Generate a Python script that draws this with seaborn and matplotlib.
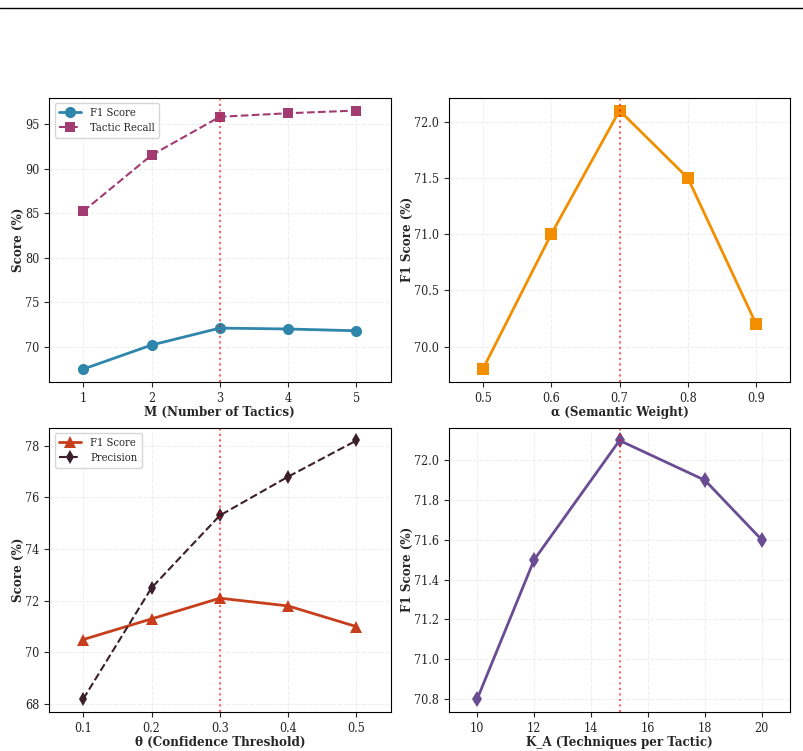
import numpy as np
import pandas as pd
import matplotlib.pyplot as plt
import seaborn as sns
from matplotlib.lines import Line2D

m_vals = [1, 2, 3, 4, 5]
m_f1 = [67.5, 70.2, 72.1, 72.0, 71.8]
m_recall = [85.2, 91.5, 95.8, 96.2, 96.5]

alpha_vals = [0.5, 0.6, 0.7, 0.8, 0.9]
alpha_f1 = [69.8, 71.0, 72.1, 71.5, 70.2]

theta_vals = [0.1, 0.2, 0.3, 0.4, 0.5]
theta_f1 = [70.5, 71.3, 72.1, 71.8, 71.0]
theta_prec = [68.2, 72.5, 75.3, 76.8, 78.2]

ka_vals = [10, 12, 15, 18, 20]
ka_f1 = [70.8, 71.5, 72.1, 71.9, 71.6]

sns.set_style('ticks')
plt.rcParams['font.family'] = ['DejaVu Serif']
plt.rcParams['font.stretch'] = 'condensed'
plt.rcParams['font.size'] = 9

fig, axes = plt.subplots(2, 2, figsize=(8.04, 7.51), dpi=100)
fig.subplots_adjust(left=0.061, right=0.983, top=0.870, bottom=0.052,
                    wspace=0.17, hspace=0.16)
fig.add_artist(Line2D([0.0, 1.0], [0.99, 0.99], color='black', lw=1.0,
                      transform=fig.transFigure))

lab = dict(fontsize=9.5, fontweight='bold')
vline = dict(color='red', linestyle=':', alpha=0.6, linewidth=1.5)


def style(ax):
    ax.grid(True, linestyle='--', alpha=0.3)
    for s in ax.spines.values():
        s.set_visible(True)
        s.set_color('black')
    ax.tick_params(labelsize=9)
    ax.xaxis.labelpad = 1
    ax.yaxis.labelpad = 0


ax = axes[0, 0]
sns.lineplot(x=m_vals, y=m_f1, ax=ax, color='#2E86AB', marker='o',
             markersize=8, linewidth=2, markeredgewidth=0, label='F1 Score')
sns.lineplot(x=m_vals, y=m_recall, ax=ax, color='#A23B72', marker='s',
             markersize=7, linewidth=1.5, linestyle='--', markeredgewidth=0,
             label='Tactic Recall')
ax.axvline(3, **vline)
ax.set_xticks(m_vals)
ax.set_xlim(0.5, 5.5)
ax.set_xlabel('M (Number of Tactics)', **lab)
ax.set_ylabel('Score (%)', **lab)
ax.legend(loc='upper left', fontsize=8)
style(ax)

ax = axes[0, 1]
sns.lineplot(x=alpha_vals, y=alpha_f1, ax=ax, color='#F18F01', marker='s',
             markersize=8, linewidth=2, markeredgewidth=0)
ax.axvline(0.7, **vline)
ax.set_xticks(alpha_vals)
ax.set_xlim(0.45, 0.95)
ax.set_xlabel('α (Semantic Weight)', **lab)
ax.set_ylabel('F1 Score (%)', **lab)
style(ax)

ax = axes[1, 0]
sns.lineplot(x=theta_vals, y=theta_f1, ax=ax, color='#C73E1D', marker='^',
             markersize=8, linewidth=2, markeredgewidth=0, label='F1 Score')
sns.lineplot(x=theta_vals, y=theta_prec, ax=ax, color='#3B1F2B', marker='d',
             markersize=7, linewidth=1.5, linestyle='--', markeredgewidth=0,
             label='Precision')
ax.axvline(0.3, **vline)
ax.set_xticks(theta_vals)
ax.set_xlim(0.05, 0.55)
ax.set_xlabel('θ (Confidence Threshold)', **lab)
ax.set_ylabel('Score (%)', **lab)
ax.legend(loc='upper left', fontsize=8)
style(ax)

ax = axes[1, 1]
sns.lineplot(x=ka_vals, y=ka_f1, ax=ax, color='#6A4C93', marker='d',
             markersize=8, linewidth=2, markeredgewidth=0)
ax.axvline(15, **vline)
ax.set_xticks([10, 12, 14, 16, 18, 20])
ax.set_xlim(9, 21)
ax.set_xlabel('K_A (Techniques per Tactic)', **lab)
ax.set_ylabel('F1 Score (%)', **lab)
style(ax)

fig.savefig('out.png', dpi=100)
